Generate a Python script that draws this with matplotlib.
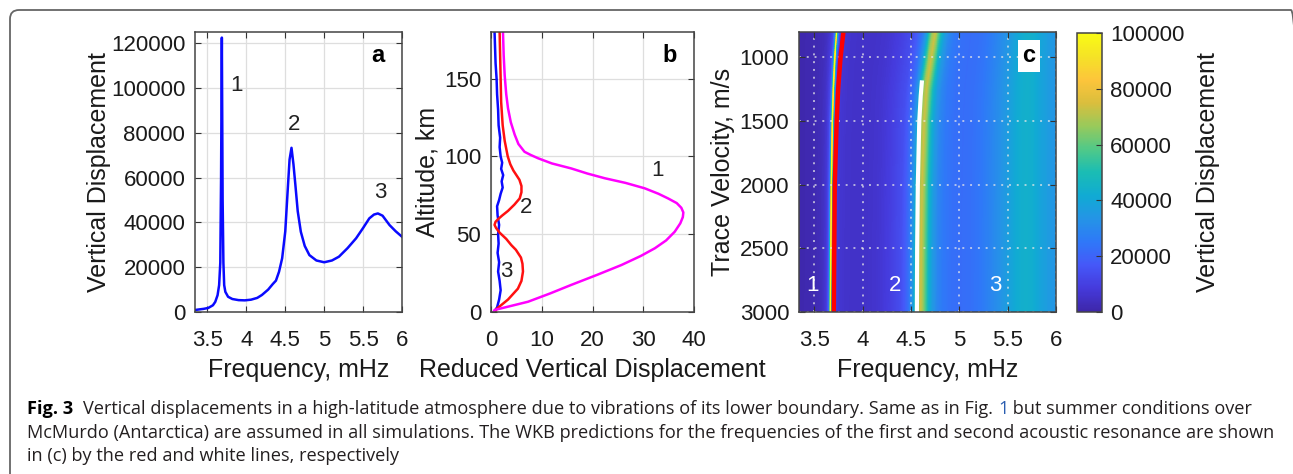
import matplotlib
matplotlib.use('Agg')
import matplotlib.pyplot as plt
import numpy as np
from matplotlib.colors import LinearSegmentedColormap
from matplotlib.patches import FancyBboxPatch
from matplotlib.transforms import IdentityTransform

# panel a: spectrum of vertical displacement
freq_a = [3.34, 3.45, 3.51, 3.57, 3.60, 3.63, 3.65, 3.665, 3.675, 3.685, 3.695, 3.705,
          3.715, 3.73, 3.765, 3.82, 3.90, 3.98, 4.06, 4.14, 4.20, 4.28, 4.34, 4.38,
          4.42, 4.46, 4.50, 4.53, 4.555, 4.58, 4.605, 4.63, 4.66, 4.70, 4.75, 4.81,
          4.90, 5.00, 5.10, 5.19, 5.30, 5.41, 5.50, 5.58, 5.64, 5.69, 5.75, 5.84,
          5.92, 6.0]
disp_a = [900, 1400, 1800, 3000, 4500, 7500, 12000, 22000, 60000, 122500, 50000, 22000,
          12000, 9000, 6800, 5800, 5300, 5200, 5500, 6300, 7600, 10000, 12500, 14000,
          18000, 24000, 36000, 53700, 68000, 73300, 66000, 56700, 45000, 35800, 29500, 25400,
          23000, 22200, 23000, 24700, 28500, 32900, 37500, 41800, 43500, 44000, 43000, 38800,
          36000, 33600]
peaks_a = [(3.87, 101000, '1'), (4.61, 83500, '2'), (5.72, 53500, '3')]

# panel b: altitude profiles of reduced vertical displacement
alt_1 = [0, 1.3, 6.6, 12, 17.4, 24, 30.2, 36, 41, 46, 51.6, 57, 61, 64, 67, 70, 73, 76,
         79.5, 83, 86, 89, 92.3, 95.5, 98.8, 101, 103, 108, 114, 122, 131, 140, 152, 165, 180]
rvd_1 = [0.5, 0.7, 7.3, 11.7, 15.8, 21.0, 25.7, 29.5, 32.3, 34.5, 36.2, 37.3, 37.8, 37.9,
         37.5, 36.6, 34.9, 33.0, 30.3, 26.5, 22.4, 19.0, 15.8, 12.0, 9.3, 7.8, 6.6, 5.4,
         4.67, 3.9, 3.35, 3.0, 2.7, 2.5, 2.36]
alt_2 = [0, 2, 8, 15, 20, 26, 31, 35, 40, 43, 47, 51, 54, 56, 58, 60, 62, 65, 69, 73, 77,
         81, 85, 88, 91, 95, 100, 110, 120, 135, 150, 165, 180]
rvd_2 = [0.8, 1.1, 3.35, 5.3, 6.0, 6.3, 6.2, 5.9, 4.9, 4.0, 3.0, 1.7, 1.0, 0.7, 0.9, 1.5,
         2.2, 3.35, 4.6, 5.65, 6.0, 6.0, 5.6, 5.0, 4.4, 3.8, 3.3, 2.7, 2.3, 2.0, 1.9, 1.8, 1.7]
alt_3 = [0, 3, 8, 14, 20, 26, 32, 38, 44, 50, 56, 62, 68, 72, 76, 80, 84, 88, 92, 96,
         100, 106, 112, 120, 130, 140, 150, 160, 170, 180]
rvd_3 = [0.6, 1.2, 1.6, 1.9, 1.7, 1.4, 1.6, 1.3, 1.5, 1.4, 1.6, 1.3, 1.2, 1.6, 1.9, 2.3,
         2.1, 2.4, 2.0, 2.2, 1.9, 1.7, 1.8, 1.5, 1.4, 1.2, 1.1, 0.9, 0.8, 0.7]
labels_b = [(32.9, 91, '1'), (7.0, 67, '2'), (3.1, 26, '3')]

# panel c: resonance ridge positions vs trace velocity, and WKB predictions
ridge_v = [800, 1000, 1250, 1500, 2000, 2500, 3000]
ridge1_f = [3.73, 3.71, 3.695, 3.685, 3.675, 3.67, 3.665]
ridge2_f = [4.75, 4.71, 4.66, 4.635, 4.615, 4.605, 4.60]
wkb1_v = [800, 1000, 1250, 1500, 2000, 2500, 3000]
wkb1_f = [3.80, 3.77, 3.745, 3.73, 3.71, 3.705, 3.70]
wkb2_v = [1180, 1300, 1500, 2000, 2500, 3000]
wkb2_f = [4.613, 4.60, 4.585, 4.57, 4.563, 4.56]
labels_c = [(3.475, 2790, '1'), (4.33, 2790, '2'), (5.37, 2790, '3')]

parula = LinearSegmentedColormap.from_list('parula', [
    (0.2422, 0.1504, 0.6603), (0.2691, 0.2275, 0.8617), (0.2728, 0.3440, 0.9731),
    (0.1841, 0.4697, 0.9734), (0.1427, 0.5808, 0.9029), (0.0641, 0.6678, 0.8287),
    (0.1024, 0.7395, 0.7051), (0.3118, 0.7869, 0.5352), (0.5951, 0.7906, 0.3578),
    (0.8545, 0.7461, 0.2385), (0.9922, 0.7713, 0.2312), (0.9598, 0.8879, 0.1507),
    (0.9769, 0.9839, 0.0805)])

W, H = 1293, 474
fig = plt.figure(figsize=(W / 100, H / 100), dpi=100)
plt.rcParams['font.family'] = ['Liberation Sans', 'DejaVu Sans']
TXT = '#1a1a1a'


def px_axes(l, t, r, b):
    return fig.add_axes([l / W, 1 - b / H, (r - l) / W, (b - t) / H])


def matlab_style(ax, grid=True):
    ax.tick_params(direction='in', length=4, width=0.8, top=True, right=True,
                   labelsize=16, pad=7, color='#333333', labelcolor=TXT)
    ax.tick_params(axis='x', pad=13)
    for s in ax.spines.values():
        s.set_color('#444444')
        s.set_linewidth(1.1)
    if grid:
        ax.grid(True, color='#dedede', linewidth=0.9)
        ax.set_axisbelow(True)


# ---- panel a
ax1 = px_axes(195, 32, 402, 312)
ax1.plot(freq_a, disp_a, color='#0a0aff', lw=1.8)
ax1.set_xlim(3.34, 6)
ax1.set_ylim(0, 125000)
ax1.set_xticks([3.5, 4, 4.5, 5, 5.5, 6])
ax1.set_xticklabels(['3.5', '4', '4.5', '5', '5.5', '6'])
ax1.set_yticks(np.arange(0, 120001, 20000))
ax1.set_yticklabels([str(v) for v in range(0, 120001, 20000)])
matlab_style(ax1)
for f, v, s in peaks_a:
    ax1.text(f, v, s, fontsize=16, color='#222222', ha='center', va='center')
ax1.text(0.885, 0.915, 'a', transform=ax1.transAxes, fontsize=17, fontweight='bold',
         ha='center', va='center', color='black')
ax1.set_xlabel('Frequency, mHz', fontsize=18, labelpad=5, color=TXT)
ax1.set_ylabel('Vertical Displacement', fontsize=18, labelpad=0, color=TXT)

# ---- panel b
ax2 = px_axes(491, 32, 694, 312)
ax2.plot(rvd_3, alt_3, color='#0a0aff', lw=1.8)
ax2.plot(rvd_2, alt_2, color='#ff1010', lw=1.8)
ax2.plot(rvd_1, alt_1, color='#ff00ff', lw=1.8)
ax2.set_xlim(0, 40)
ax2.set_ylim(0, 180)
ax2.set_xticks([0, 10, 20, 30, 40])
ax2.set_yticks([0, 50, 100, 150])
matlab_style(ax2)
for x, a, s in labels_b:
    ax2.text(x, a, s, fontsize=16, color='#222222', ha='center', va='center')
ax2.text(0.882, 0.915, 'b', transform=ax2.transAxes, fontsize=17, fontweight='bold',
         ha='center', va='center', color='black')
ax2.set_xlabel('Reduced Vertical Displacement', fontsize=18, labelpad=5, color=TXT)
ax2.set_ylabel('Altitude, km', fontsize=18, labelpad=3, color=TXT)

# ---- panel c
ax3 = px_axes(799, 32, 1056, 312)
f_grid = np.linspace(3.34, 6.0, 800)
v_grid = np.linspace(800, 3000, 140)
r1 = np.interp(v_grid, ridge_v, ridge1_f)
r2 = np.interp(v_grid, ridge_v, ridge2_f)
Z = np.empty((len(v_grid), len(f_grid)))
for i in range(len(v_grid)):
    src = np.interp(f_grid, [3.34, r1[i], r2[i], 6.0], [3.34, 3.685, 4.58, 6.0])
    Z[i] = np.interp(src, freq_a, disp_a)
mesh = ax3.pcolormesh(f_grid, v_grid, Z, cmap=parula, vmin=0, vmax=100000,
                      shading='auto', rasterized=True)
ax3.plot(wkb1_f, wkb1_v, color='#ff0000', lw=3.2, solid_capstyle='butt')
ax3.plot(wkb2_f, wkb2_v, color='white', lw=3.0, solid_capstyle='butt')
ax3.set_xlim(3.34, 6)
ax3.set_ylim(3000, 800)
ax3.set_xticks([3.5, 4, 4.5, 5, 5.5, 6])
ax3.set_xticklabels(['3.5', '4', '4.5', '5', '5.5', '6'])
ax3.set_yticks([1000, 1500, 2000, 2500, 3000])
matlab_style(ax3, grid=False)
ax3.grid(True, color='#e8e8e8', linestyle=(0, (1, 3)), linewidth=1.4, alpha=0.7)
for f, v, s in labels_c:
    ax3.text(f, v, s, fontsize=16, color='white', ha='center', va='center')
ax3.text(0.895, 0.915, 'c', transform=ax3.transAxes, fontsize=17, fontweight='bold',
         ha='center', va='center', color='black',
         bbox=dict(facecolor='white', edgecolor='none', pad=3))
ax3.set_xlabel('Frequency, mHz', fontsize=18, labelpad=5, color=TXT)
ax3.set_ylabel('Trace Velocity, m/s', fontsize=18, labelpad=3, color=TXT)

cax = px_axes(1077, 33, 1102, 312)
cb = fig.colorbar(mesh, cax=cax, ticks=np.arange(0, 100001, 20000))
cb.ax.set_yticklabels([str(v) for v in range(0, 100001, 20000)])
cb.ax.tick_params(direction='in', length=4, width=0.8, labelsize=16, pad=6,
                  color='#333333', labelcolor=TXT)
cb.outline.set_edgecolor('#444444')
cb.outline.set_linewidth(1.1)
cb.set_label('Vertical Displacement', fontsize=18, labelpad=8, color=TXT)

# ---- caption frame and text
frame = FancyBboxPatch((10, -20), 1290, 474 - 10 + 20, boxstyle='round,pad=0,rounding_size=9',
                       transform=IdentityTransform(), facecolor='none',
                       edgecolor='#666666', linewidth=1.3, clip_on=False)
fig.patches.append(frame)

renderer = fig.canvas.get_renderer()
cap = dict(family=['Open Sans', 'DejaVu Sans'], fontsize=13.1, color='#231f20')


def put(x, y, s, **kw):
    opts = dict(cap)
    opts.update(kw)
    t = fig.text(x / W, 1 - y / H, s, ha='left', va='baseline', **opts)
    return x + t.get_window_extent(renderer).width


x = put(27, 414, 'Fig. 3', fontweight='bold', color='black')
x = put(x + 10, 414, 'Vertical displacements in a high-latitude atmosphere due to vibrations '
        'of its lower boundary. Same as in Fig. ')
x = put(x, 414, '1', color='#2a5db0')
put(x, 414, ' but summer conditions over')
put(27, 438, 'McMurdo (Antarctica) are assumed in all simulations. The WKB predictions for '
    'the frequencies of the first and second acoustic resonance are shown')
put(27, 461, 'in (c) by the red and white lines, respectively')

fig.savefig('out.png', dpi=100)
